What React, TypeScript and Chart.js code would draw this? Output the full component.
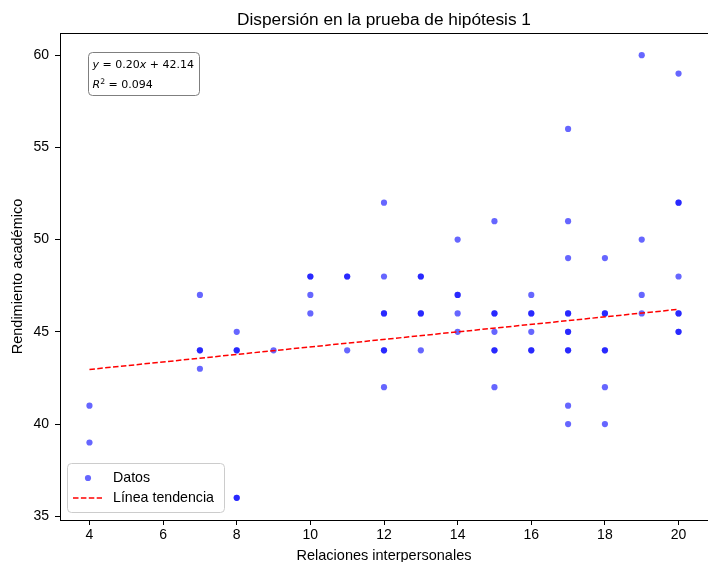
import React, { useEffect, useRef } from 'react';
import { Chart, registerables } from 'chart.js';

Chart.register(...registerables);

// ---- data ----
const xValues = [
  4, 4,
  7, 7, 7, 7,
  8, 8, 8, 8, 8,
  9,
  10, 10, 10, 10,
  11, 11, 11,
  12, 12, 12, 12, 12, 12, 12,
  13, 13, 13, 13, 13,
  14, 14, 14, 14, 14,
  15, 15, 15, 15, 15, 15, 15,
  16, 16, 16, 16, 16, 16,
  17, 17, 17, 17, 17, 17, 17, 17, 17, 17, 17,
  18, 18, 18, 18, 18, 18, 18,
  19, 19, 19, 19,
  20, 20, 20, 20, 20, 20, 20, 20,
];
const yValues = [
  41, 39,
  47, 44, 44, 43,
  45, 44, 44, 36, 36,
  44,
  48, 48, 47, 46,
  48, 48, 44,
  52, 48, 46, 46, 44, 44, 42,
  48, 48, 46, 46, 44,
  50, 47, 47, 46, 45,
  51, 46, 46, 45, 44, 44, 42,
  47, 46, 46, 45, 44, 44,
  56, 51, 49, 46, 46, 45, 45, 44, 44, 41, 40,
  49, 46, 46, 44, 44, 42, 40,
  60, 50, 47, 46,
  59, 52, 52, 48, 46, 46, 45, 45,
];
const trendX = [4, 20];
const trendY = [42.96, 46.22];
const xTicks = [4, 6, 8, 10, 12, 14, 16, 18, 20];
const yTicks = [35, 40, 45, 50, 55, 60];
const xRange = [3.2, 20.8];
const yRange = [34.8, 61.2];

const titleText = 'Dispersión en la prueba de hipótesis 1';
const xLabelText = 'Relaciones interpersonales';
const yLabelText = 'Rendimiento académico';
const legendLabels = ['Datos', 'Línea tendencia'];
const slopeText = '0.20';
const interceptText = '42.14';
const r2Text = '0.094';

const SANS = '"Liberation Sans", Arial, sans-serif';
const MATH = '"DejaVu Sans", sans-serif';
const DOT = 'rgba(0,0,255,0.6)';

function roundRect(ctx: CanvasRenderingContext2D, x: number, y: number, w: number, h: number, r: number) {
  ctx.beginPath();
  ctx.moveTo(x + r, y);
  ctx.lineTo(x + w - r, y);
  ctx.quadraticCurveTo(x + w, y, x + w, y + r);
  ctx.lineTo(x + w, y + h - r);
  ctx.quadraticCurveTo(x + w, y + h, x + w - r, y + h);
  ctx.lineTo(x + r, y + h);
  ctx.quadraticCurveTo(x, y + h, x, y + h - r);
  ctx.lineTo(x, y + r);
  ctx.quadraticCurveTo(x, y, x + r, y);
  ctx.closePath();
}

type Run = { t: string; it?: boolean; sup?: boolean };
function drawRuns(ctx: CanvasRenderingContext2D, runs: Run[], x: number, y: number, size: number) {
  let cx = x;
  for (const r of runs) {
    const s = r.sup ? size * 0.7 : size;
    ctx.font = `${r.it ? 'italic ' : ''}${s}px ${MATH}`;
    ctx.fillText(r.t, cx, r.sup ? y - size * 0.38 : y);
    cx += ctx.measureText(r.t).width;
  }
}

const decorPlugin = {
  id: 'decor',
  afterDatasetsDraw(chart: any) {
    const ctx: CanvasRenderingContext2D = chart.ctx;
    const a = chart.chartArea;
    ctx.save();
    // spines
    ctx.strokeStyle = '#000';
    ctx.lineWidth = 1;
    ctx.strokeRect(a.left + 0.5, a.top + 0.5, a.right - a.left, a.bottom - a.top);

    // title
    const cx = (a.left + a.right) / 2;
    ctx.fillStyle = '#000';
    ctx.textAlign = 'center';
    ctx.textBaseline = 'alphabetic';
    ctx.font = `17.3px ${SANS}`;
    ctx.fillText(titleText, cx, 25);
    // x label
    ctx.font = `14.5px ${SANS}`;
    ctx.fillText(xLabelText, cx, 560);
    // y label
    ctx.save();
    ctx.translate(22, (a.top + a.bottom) / 2);
    ctx.rotate(-Math.PI / 2);
    ctx.fillText(yLabelText, 0, 0);
    ctx.restore();

    // equation box
    roundRect(ctx, 88.5, 52.5, 111, 43, 4);
    ctx.fillStyle = 'rgba(255,255,255,0.9)';
    ctx.fill();
    ctx.strokeStyle = '#7f7f7f';
    ctx.lineWidth = 1;
    ctx.stroke();
    ctx.fillStyle = '#000';
    ctx.textAlign = 'left';
    ctx.textBaseline = 'alphabetic';
    drawRuns(ctx, [{ t: 'y', it: true }, { t: ' = ' + slopeText }, { t: 'x', it: true }, { t: ' + ' + interceptText }], 92.5, 68, 11);
    drawRuns(ctx, [{ t: 'R', it: true }, { t: '2', sup: true }, { t: ' = ' + r2Text }], 92.5, 88, 11);

    // legend
    roundRect(ctx, 67.5, 463.5, 157, 49, 4);
    ctx.fillStyle = 'rgba(255,255,255,0.8)';
    ctx.fill();
    ctx.strokeStyle = '#cccccc';
    ctx.stroke();
    ctx.beginPath();
    ctx.arc(88, 478, 3.1, 0, Math.PI * 2);
    ctx.fillStyle = DOT;
    ctx.fill();
    ctx.beginPath();
    ctx.setLineDash([5.5, 2.4]);
    ctx.strokeStyle = '#ff0000';
    ctx.lineWidth = 1.5;
    ctx.moveTo(73, 498);
    ctx.lineTo(102, 498);
    ctx.stroke();
    ctx.setLineDash([]);
    ctx.fillStyle = '#000';
    ctx.font = `14.2px ${SANS}`;
    ctx.textBaseline = 'middle';
    ctx.fillText(legendLabels[0], 113, 478);
    ctx.fillText(legendLabels[1], 113, 498);
    ctx.restore();
  },
};

export default function App() {
  const ref = useRef<HTMLCanvasElement>(null);
  useEffect(() => {
    if (!ref.current) return;
    const points = xValues.map((x, i) => ({ x, y: yValues[i] }));
    const trend = trendX.map((x, i) => ({ x, y: trendY[i] }));
    const tickFont = { family: SANS, size: 14 };
    const chart = new Chart(ref.current, {
      type: 'scatter',
      data: {
        datasets: [
          {
            label: legendLabels[1],
            data: trend,
            showLine: true,
            borderColor: '#ff0000',
            borderWidth: 1.5,
            borderDash: [5.5, 2.4],
            pointRadius: 0,
            fill: false,
          } as any,
          {
            label: legendLabels[0],
            data: points,
            backgroundColor: DOT,
            borderWidth: 0,
            pointRadius: 3.1,
          },
        ],
      },
      options: {
        responsive: false,
        animation: false,
        devicePixelRatio: 1,
        layout: { padding: { top: 33, right: 1, bottom: 0, left: 0 } },
        plugins: { legend: { display: false }, title: { display: false }, tooltip: { enabled: false } },
        scales: {
          x: {
            type: 'linear',
            min: xRange[0],
            max: xRange[1],
            afterBuildTicks: (s: any) => { s.ticks = xTicks.map((v) => ({ value: v })); },
            afterFit: (s: any) => { s.height = 42; },
            grid: { drawOnChartArea: false, drawTicks: true, tickLength: 5, tickColor: '#000', tickWidth: 1 },
            border: { display: false },
            ticks: { color: '#000', font: tickFont, padding: 2, autoSkip: false, maxRotation: 0 },
          },
          y: {
            type: 'linear',
            min: yRange[0],
            max: yRange[1],
            afterBuildTicks: (s: any) => { s.ticks = yTicks.map((v) => ({ value: v })); },
            afterFit: (s: any) => { s.width = 60; },
            grid: { drawOnChartArea: false, drawTicks: true, tickLength: 5, tickColor: '#000', tickWidth: 1 },
            border: { display: false },
            ticks: { color: '#000', font: tickFont, padding: 6, autoSkip: false },
          },
        },
      },
      plugins: [decorPlugin],
    });
    return () => chart.destroy();
  }, []);
  return (
    <div style={{ position: 'fixed', left: 0, top: 0, width: 708, height: 562, overflow: 'hidden', background: '#fff' }}>
      <canvas ref={ref} width={712} height={562} style={{ display: 'block' }} />
    </div>
  );
}
